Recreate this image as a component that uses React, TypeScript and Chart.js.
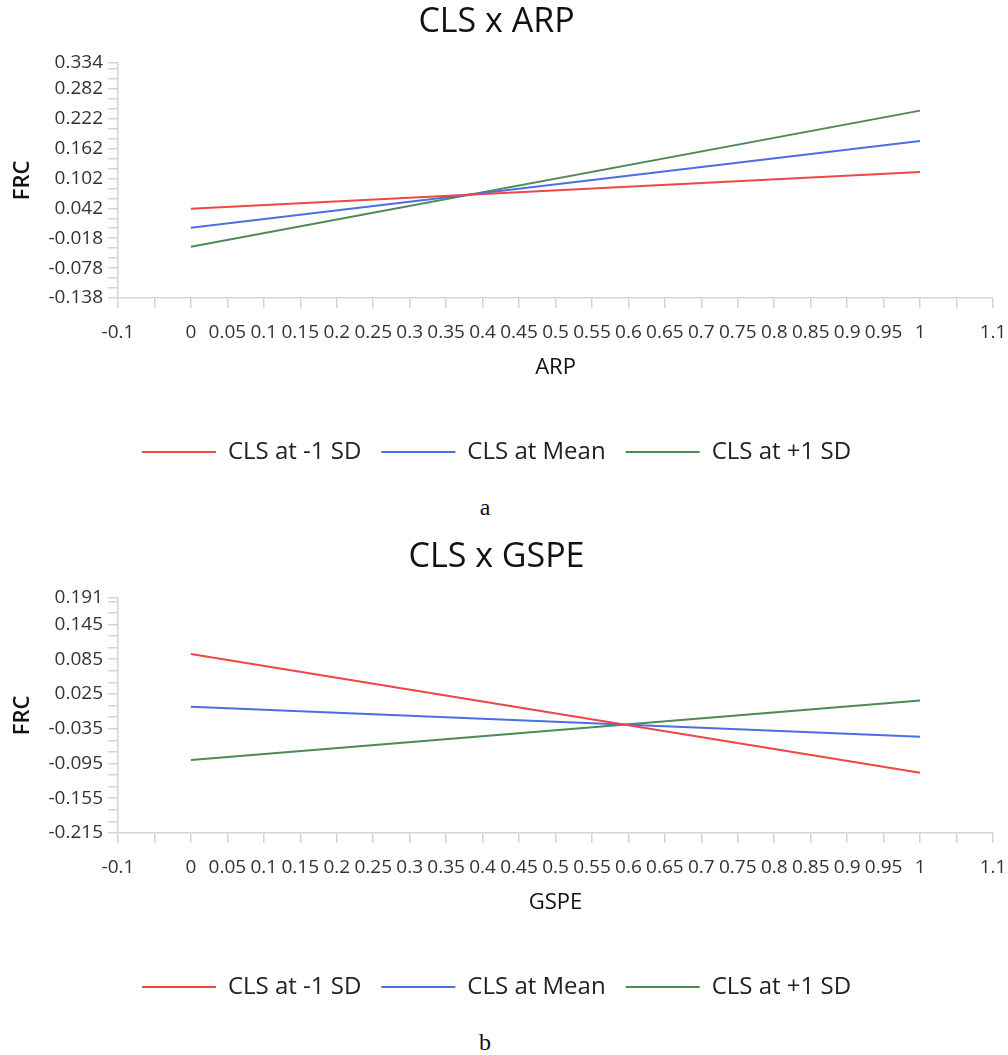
import React, { useEffect, useRef } from 'react';
import { Chart, registerables } from 'chart.js';

Chart.register(...registerables);

const FONT = '"Open Sans", "Noto Sans", sans-serif';
const AXIS_COLOR = '#d3d3dc';

const xValues = [0, 1];
const seriesLabels = ['CLS at -1 SD', 'CLS at Mean', 'CLS at +1 SD'];
const seriesColors = ['#ef4646', '#4b6fe2', '#4e8a55'];

// Panel a: CLS x ARP
const arpLow = [0.041, 0.115];
const arpMean = [0.003, 0.177];
const arpHigh = [-0.035, 0.238];
const arpYTicks = [-0.138, -0.078, -0.018, 0.042, 0.102, 0.162, 0.222, 0.282, 0.334];

// Panel b: CLS x GSPE
const gspeLow = [0.094, -0.111];
const gspeMean = [0.003, -0.049];
const gspeHigh = [-0.089, 0.0136];
const gspeYTicks = [-0.215, -0.155, -0.095, -0.035, 0.025, 0.085, 0.145, 0.191];

const xTickValues = [
  -0.1, -0.05, 0, 0.05, 0.1, 0.15, 0.2, 0.25, 0.3, 0.35, 0.4, 0.45, 0.5,
  0.55, 0.6, 0.65, 0.7, 0.75, 0.8, 0.85, 0.9, 0.95, 1, 1.05, 1.1,
];
const xTickLabels = [
  '-0.1', '', '0', '0.05', '0.1', '0.15', '0.2', '0.25', '0.3', '0.35', '0.4', '0.45', '0.5',
  '0.55', '0.6', '0.65', '0.7', '0.75', '0.8', '0.85', '0.9', '0.95', '1', '', '1.1',
];

const MINOR_STEP = 0.02;

function allYTicks(major: number[]): number[] {
  const min = major[0];
  const max = major[major.length - 1];
  const out: number[] = [];
  for (let k = 0; min + k * MINOR_STEP <= max - 1e-9; k++) {
    out.push(+(min + k * MINOR_STEP).toFixed(4));
  }
  out.push(max);
  return out;
}

type PanelProps = {
  title: string;
  xTitle: string;
  yTicks: number[];
  series: number[][];
};

function Panel({ title, xTitle, yTicks, series }: PanelProps) {
  const ref = useRef<HTMLCanvasElement | null>(null);

  useEffect(() => {
    if (!ref.current) return;
    const yMin = yTicks[0];
    const yMax = yTicks[yTicks.length - 1];
    const yAll = allYTicks(yTicks);
    const chart = new Chart(ref.current, {
      type: 'line',
      data: {
        datasets: series.map((vals, i) => ({
          label: seriesLabels[i],
          data: xValues.map((x, j) => ({ x, y: vals[j] })),
          borderColor: seriesColors[i],
          backgroundColor: seriesColors[i],
          borderWidth: 2,
          pointRadius: 0,
          tension: 0,
        })),
      },
      options: {
        animation: false,
        responsive: true,
        maintainAspectRatio: false,
        layout: { padding: { left: 0, right: 15, top: 0, bottom: 6 } },
        plugins: {
          title: {
            display: true,
            text: title,
            color: '#111',
            font: { family: FONT, size: 34, weight: 'normal' },
            padding: { top: 2, bottom: 20 },
          },
          legend: {
            position: 'bottom',
            labels: {
              boxWidth: 74,
              boxHeight: 0,
              padding: 20,
              color: '#222',
              font: { family: FONT, size: 24 },
            },
          },
          tooltip: { enabled: false },
        },
        scales: {
          x: {
            type: 'linear',
            min: -0.1,
            max: 1.1,
            afterBuildTicks: (s: any) => {
              s.ticks = xTickValues.map((v) => ({ value: v }));
            },
            afterFit: (s: any) => {
              s.height = 122;
              s.paddingRight = 0;
              s.paddingLeft = 0;
            },
            ticks: {
              autoSkip: false,
              maxRotation: 0,
              minRotation: 0,
              padding: 13,
              color: '#333',
              font: { family: FONT, size: 19 },
              callback: (_v: any, i: number) => xTickLabels[i],
            },
            grid: {
              display: true,
              drawOnChartArea: false,
              drawTicks: true,
              tickLength: 10,
              color: AXIS_COLOR,
              lineWidth: 1.5,
            },
            border: { display: true, color: AXIS_COLOR, width: 1.5 },
            title: {
              display: true,
              text: xTitle,
              color: '#111',
              font: { family: FONT, size: 22 },
              padding: { top: 0, bottom: 39 },
            },
          },
          y: {
            type: 'linear',
            min: yMin,
            max: yMax,
            afterBuildTicks: (s: any) => {
              s.ticks = yAll.map((v) => ({ value: v }));
            },
            afterFit: (s: any) => {
              s.width = 118;
            },
            ticks: {
              autoSkip: false,
              padding: 5,
              color: '#333',
              font: { family: FONT, size: 19 },
              callback: (v: any) => {
                const m = yTicks.find((t) => Math.abs(t - Number(v)) < 1e-6);
                return m === undefined ? '' : String(m);
              },
            },
            grid: {
              display: true,
              drawOnChartArea: false,
              drawTicks: true,
              tickLength: 10,
              color: AXIS_COLOR,
              lineWidth: 1.5,
            },
            border: { display: true, color: AXIS_COLOR, width: 1.5 },
            title: {
              display: true,
              text: 'FRC',
              color: '#111',
              font: { family: FONT, size: 22, weight: '600' },
              padding: { top: 10, bottom: 0 },
            },
          },
        },
      },
    } as any);
    return () => chart.destroy();
  }, [title, xTitle, yTicks, series]);

  return (
    <div style={{ position: 'relative', width: 1008, height: 480 }}>
      <canvas ref={ref} />
    </div>
  );
}

const captionStyle: React.CSSProperties = {
  position: 'absolute',
  left: 435,
  width: 100,
  height: 30,
  lineHeight: '30px',
  textAlign: 'center',
  fontFamily: '"Liberation Serif", "DejaVu Serif", serif',
  fontSize: 24,
  color: '#111',
};

export default function App() {
  return (
    <div style={{ position: 'absolute', left: 0, top: 0, width: 1008, height: 1055, background: '#fff' }}>
      <div style={{ position: 'absolute', left: 0, top: 0 }}>
        <Panel title="CLS x ARP" xTitle="ARP" yTicks={arpYTicks} series={[arpLow, arpMean, arpHigh]} />
      </div>
      <div style={{ ...captionStyle, top: 492 }}>a</div>
      <div style={{ position: 'absolute', left: 0, top: 535 }}>
        <Panel title="CLS x GSPE" xTitle="GSPE" yTicks={gspeYTicks} series={[gspeLow, gspeMean, gspeHigh]} />
      </div>
      <div style={{ ...captionStyle, top: 1027 }}>b</div>
    </div>
  );
}
